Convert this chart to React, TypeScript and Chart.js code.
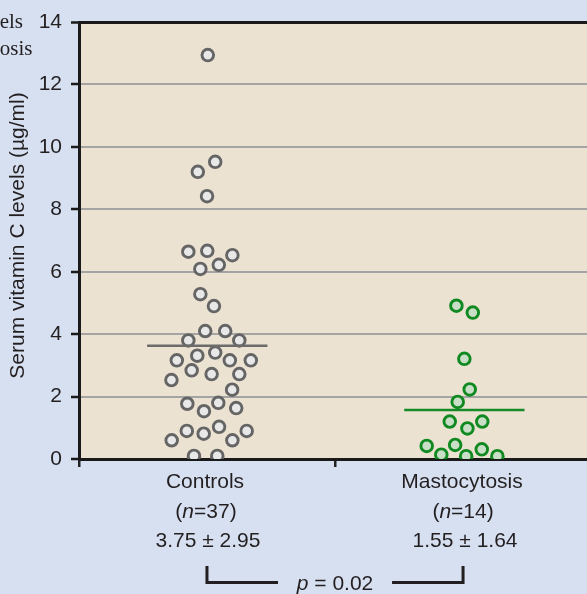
import React, { useEffect, useRef } from 'react';
import { Chart, registerables } from 'chart.js';

Chart.register(...registerables);

// ---------- data ----------
const categories = ['Controls', 'Mastocytosis'];
const groupSizes = ['37', '14'];
const summaryLabels = ['3.75 ± 2.95', '1.55 ± 1.64'];
const pValueText = '0.02';
const yTickValues = [0, 2, 4, 6, 8, 10, 12, 14];
const yAxisTitle = 'Serum vitamin C levels (µg/ml)';
const captionLines = ['Serum vitamin C levels', 'in patients with mastocytosis'];

// beeswarm positions (x: group position, y: value in µg/ml)
const controlsX = [
  0.503, 0.464, 0.532, 0.5, 0.427, 0.501, 0.599, 0.474, 0.546, 0.474,
  0.527, 0.493, 0.571, 0.427, 0.626, 0.462, 0.532, 0.382, 0.589, 0.671,
  0.44, 0.518, 0.626, 0.361, 0.598, 0.423, 0.488, 0.544, 0.614, 0.362,
  0.421, 0.487, 0.547, 0.599, 0.655, 0.449, 0.54,
];
const controlsY = [
  12.94, 9.2, 9.52, 8.42, 6.64, 6.67, 6.53, 6.09, 6.22, 5.28,
  4.9, 4.1, 4.1, 3.8, 3.8, 3.31, 3.41, 3.16, 3.16, 3.16,
  2.84, 2.72, 2.72, 2.53, 2.22, 1.77, 1.53, 1.8, 1.63, 0.6,
  0.9, 0.81, 1.03, 0.6, 0.9, 0.1, 0.1,
];
const mastoX = [
  1.474, 1.538, 1.505, 1.526, 1.479, 1.448, 1.575, 1.517, 1.358, 1.469,
  1.573, 1.415, 1.512, 1.634,
];
const mastoY = [
  4.91, 4.69, 3.21, 2.23, 1.83, 1.2, 1.2, 0.98, 0.42, 0.45,
  0.31, 0.14, 0.09, 0.09,
];
const groupMeans = [3.63, 1.57];
const meanStart = [0.266, 1.27];
const meanEnd = [0.736, 1.74];
const groupCenters = [0.492, 1.496];

// ---------- styles ----------
const SANS = '"Liberation Sans", Arial, Helvetica, sans-serif';
const SERIF = '"Liberation Serif", "Times New Roman", serif';
const TEXT = '#231f20';
const OUTER_BG = '#d7e0f1';
const PLOT_BG = '#ebe2d2';

type Part = { t: string; italic?: boolean };

function drawRich(ctx: CanvasRenderingContext2D, parts: Part[], cx: number, cy: number, size: number) {
  const fonts = parts.map((p) => `${p.italic ? 'italic ' : ''}${size}px ${SANS}`);
  let total = 0;
  const widths = parts.map((p, i) => {
    ctx.font = fonts[i];
    const w = ctx.measureText(p.t).width;
    total += w;
    return w;
  });
  let x = cx - total / 2;
  ctx.textAlign = 'left';
  ctx.textBaseline = 'middle';
  parts.forEach((p, i) => {
    ctx.font = fonts[i];
    ctx.fillText(p.t, x, cy);
    x += widths[i];
  });
}

const decorPlugin = {
  id: 'decor',
  beforeDraw(chart: any) {
    const { ctx, chartArea: a, width, height } = chart;
    ctx.save();
    ctx.fillStyle = OUTER_BG;
    ctx.fillRect(0, 0, width, height);
    ctx.fillStyle = PLOT_BG;
    ctx.fillRect(a.left, a.top, a.right - a.left, a.bottom - a.top);
    ctx.restore();
  },
  afterDraw(chart: any) {
    const { ctx } = chart;
    const xs = chart.scales.x;
    ctx.save();
    ctx.fillStyle = TEXT;

    // cropped caption at the top-left
    ctx.font = `21px ${SERIF}`;
    ctx.textAlign = 'right';
    ctx.textBaseline = 'alphabetic';
    ctx.fillText(captionLines[0], 23, 28);
    ctx.fillText(captionLines[1], 32.5, 55);

    // y axis title
    ctx.save();
    ctx.translate(18, 235.5);
    ctx.rotate(-Math.PI / 2);
    ctx.font = `21px ${SANS}`;
    ctx.textAlign = 'center';
    ctx.textBaseline = 'middle';
    ctx.fillText(yAxisTitle, 0, 0);
    ctx.restore();

    // category labels
    categories.forEach((c, i) => {
      const cx = xs.getPixelForValue(groupCenters[i]);
      drawRich(ctx, [{ t: c }], cx, 482, 21);
      drawRich(ctx, [{ t: '(' }, { t: 'n', italic: true }, { t: '=' + groupSizes[i] + ')' }], cx + 1, 512, 21);
      drawRich(ctx, [{ t: summaryLabels[i] }], cx + 3, 541.5, 21);
    });

    // p-value bracket
    const bx1 = xs.getPixelForValue(groupCenters[0]) + 2;
    const bx2 = xs.getPixelForValue(groupCenters[1]) + 1;
    const pc = xs.getPixelForValue(1);
    ctx.strokeStyle = TEXT;
    ctx.lineWidth = 3;
    ctx.beginPath();
    ctx.moveTo(bx1, 566);
    ctx.lineTo(bx1, 582.5);
    ctx.lineTo(bx1 + 71, 582.5);
    ctx.moveTo(bx2 - 71, 582.5);
    ctx.lineTo(bx2, 582.5);
    ctx.lineTo(bx2, 566);
    ctx.stroke();
    drawRich(ctx, [{ t: 'p', italic: true }, { t: ' = ' + pValueText }], pc, 584.5, 21);

    ctx.restore();
  },
};

export default function App() {
  const ref = useRef<HTMLCanvasElement | null>(null);

  useEffect(() => {
    if (!ref.current) return;
    const controlsData = controlsX.map((x, i) => ({ x, y: controlsY[i] }));
    const mastoData = mastoX.map((x, i) => ({ x, y: mastoY[i] }));
    const meanData = groupMeans.map((m, i) => [
      { x: meanStart[i], y: m },
      { x: meanEnd[i], y: m },
    ]);

    const chart = new Chart(ref.current, {
      type: 'scatter',
      data: {
        datasets: [
          {
            label: 'Controls mean',
            data: meanData[0],
            showLine: true,
            pointRadius: 0,
            borderColor: '#6b6b6b',
            borderWidth: 2.5,
          },
          {
            label: 'Mastocytosis mean',
            data: meanData[1],
            showLine: true,
            pointRadius: 0,
            borderColor: '#178a28',
            borderWidth: 2.5,
          },
          {
            label: categories[1],
            data: mastoData,
            pointRadius: 5.8,
            pointBorderWidth: 2.9,
            backgroundColor: '#c8dec7',
            borderColor: '#108a20',
            clip: 0,
          },
          {
            label: categories[0],
            data: controlsData,
            pointRadius: 5.8,
            pointBorderWidth: 2.9,
            backgroundColor: '#e8e8e8',
            borderColor: '#656565',
            clip: 0,
          },
        ],
      },
      options: {
        responsive: false,
        maintainAspectRatio: false,
        devicePixelRatio: 1,
        animation: false,
        events: [],
        layout: { autoPadding: false, padding: { top: 22, bottom: 125, left: 0, right: 0 } },
        plugins: {
          legend: { display: false },
          tooltip: { enabled: false },
          title: { display: false },
        },
        scales: {
          x: {
            type: 'linear',
            position: 'bottom',
            min: 0,
            max: 1.984,
            z: 1,
            afterBuildTicks: (scale: any) => {
              scale.ticks = [{ value: 0 }, { value: 1 }];
            },
            afterFit: (scale: any) => {
              scale.height = 10;
            },
            ticks: { display: false },
            grid: {
              drawOnChartArea: false,
              drawTicks: true,
              tickLength: 8,
              color: '#222',
              lineWidth: 2.5,
            },
            border: { display: true, color: '#1a1a1a', width: 3 },
          },
          y: {
            type: 'linear',
            min: 0,
            max: 14,
            afterBuildTicks: (scale: any) => {
              scale.ticks = yTickValues.map((v) => ({ value: v }));
            },
            afterFit: (scale: any) => {
              scale.width = 79;
            },
            ticks: {
              color: TEXT,
              padding: 9,
              font: { size: 21, family: SANS },
            },
            grid: {
              drawTicks: true,
              tickLength: 8,
              tickColor: '#1a1a1a',
              tickWidth: 2.5,
              color: (ctx: any) =>
                ctx.tick && ctx.tick.value === 14
                  ? '#1a1a1a'
                  : ctx.tick && ctx.tick.value === 0
                  ? 'rgba(0,0,0,0)'
                  : '#a4a4a4',
              lineWidth: (ctx: any) => (ctx.tick && ctx.tick.value === 14 ? 3 : 2),
            },
            border: { display: true, color: '#1a1a1a', width: 3 },
          },
        },
      },
      plugins: [decorPlugin],
    } as any);

    return () => chart.destroy();
  }, []);

  return (
    <div
      style={{
        position: 'fixed',
        left: 0,
        top: 0,
        width: 587,
        height: 594,
        overflow: 'hidden',
        background: OUTER_BG,
      }}
    >
      <canvas ref={ref} width={587} height={594} style={{ display: 'block', width: 587, height: 594 }} />
    </div>
  );
}
